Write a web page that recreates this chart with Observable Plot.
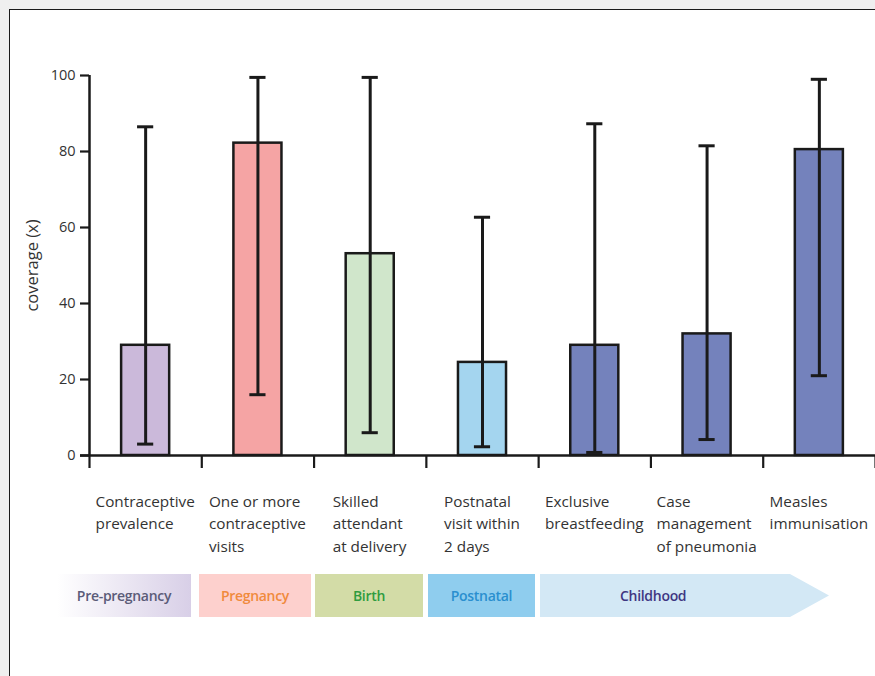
<!DOCTYPE html>
<html>
<head>
<meta charset="utf-8">
<script src="https://cdn.jsdelivr.net/npm/d3@7"></script>
<script src="https://cdn.jsdelivr.net/npm/@observablehq/plot@0.6"></script>
<style>
  html, body { margin: 0; padding: 0; background: #efefef; width: 875px; height: 676px; overflow: hidden; }
  #frame { position: absolute; left: 9px; top: 9px; width: 880px; height: 680px; background: #fff;
           border-top: 1.5px solid #1a1a1a; border-left: 1.5px solid #1a1a1a; }
  #chart { position: absolute; left: 0; top: 0; }
  .band { position: absolute; top: 574px; height: 43px; display: flex; align-items: center; justify-content: center;
          font-family: "Open Sans", Lato, sans-serif; font-weight: 600; font-size: 14px; letter-spacing: -0.3px; }
</style>
</head>
<body>
<div id="frame"></div>
<div id="chart"></div>
<div id="banner"></div>
<script>
const categories = [
  "Contraceptive\nprevalence",
  "One or more\ncontraceptive\nvisits",
  "Skilled\nattendant\nat delivery",
  "Postnatal\nvisit within\n2 days",
  "Exclusive\nbreastfeeding",
  "Case\nmanagement\nof pneumonia",
  "Measles\nimmunisation"
];
const coverage = [29, 82.2, 53.1, 24.5, 29, 32, 80.5];
const lower = [3, 16, 6, 2.3, 0.8, 4.2, 21];
const upper = [86.5, 99.5, 99.5, 62.7, 87.3, 81.5, 99];
const stageOf = ["Pre-pregnancy", "Pregnancy", "Birth", "Postnatal", "Childhood", "Childhood", "Childhood"];
const yTicks = [0, 20, 40, 60, 80, 100];
const yLabel = "coverage (x)";

const stages = ["Pre-pregnancy", "Pregnancy", "Birth", "Postnatal", "Childhood"];
const barColors = ["#cbb9da", "#f5a4a4", "#d0e6cb", "#a4d5ef", "#7482bc"];
const bandFills = ["linear-gradient(to right, #ffffff, #d8cfe7)", "#fdd0cd", "#d3dca7", "#8fcdee", "#d3e8f5"];
const bandText = ["#5b5b78", "#f08a3c", "#2f9c3f", "#2a8fcf", "#3e3682"];

const data = categories.map((c, i) => ({
  i, label: c, value: coverage[i], lo: lower[i], hi: upper[i], stage: stageOf[i]
}));

const barHalf = 0.214;
const capHalf = 0.072;
const ink = "#1a1a1a";

const chart = Plot.plot({
  width: 875,
  height: 560,
  marginTop: 75,
  marginBottom: 105,
  marginLeft: 89,
  marginRight: 0,
  x: { domain: [0, categories.length], axis: null },
  y: { domain: [0, 100], axis: null },
  color: { domain: stages, range: barColors },
  style: { fontFamily: "'Open Sans', Lato, sans-serif", color: "#333", background: "transparent" },
  marks: [
    Plot.rectY(data, {
      x1: d => d.i + 0.5 - barHalf, x2: d => d.i + 0.5 + barHalf,
      y1: 0, y2: "value", fill: "stage", stroke: ink, strokeWidth: 2.5
    }),
    Plot.ruleX(data, { x: d => d.i + 0.5, y1: "lo", y2: "hi", stroke: ink, strokeWidth: 3 }),
    Plot.ruleY(data, { x1: d => d.i + 0.5 - capHalf, x2: d => d.i + 0.5 + capHalf, y: "lo", stroke: ink, strokeWidth: 3 }),
    Plot.ruleY(data, { x1: d => d.i + 0.5 - capHalf, x2: d => d.i + 0.5 + capHalf, y: "hi", stroke: ink, strokeWidth: 3 }),
    Plot.ruleY([0], { stroke: ink, strokeWidth: 2.5, insetLeft: -9 }),
    Plot.ruleX([0], { y1: 0, y2: 100, stroke: ink, strokeWidth: 2.5 }),
    Plot.axisY({ ticks: yTicks, tickSize: 9, tickPadding: 5, fontSize: 14.5, strokeWidth: 2.2, stroke: ink, label: null }),
    Plot.axisX({ ticks: d3.range(categories.length + 1), tickSize: 13, tickFormat: () => "", strokeWidth: 2.2, stroke: ink, label: null }),
    Plot.text(data, {
      x: d => d.i + 0.5, text: "label", frameAnchor: "bottom", dy: 36,
      lineAnchor: "top", textAnchor: "start", lineHeight: 1.45, fontSize: 15.3, fill: "#333",
      className: "cat-labels"
    }),
    Plot.text([yLabel], { frameAnchor: "left", rotate: -90, dx: -57, fontSize: 16.5, fill: "#333", textAnchor: "middle" })
  ]
});
document.getElementById("chart").appendChild(chart);

// center each left-aligned label block on its category
const xs = chart.scale("x");
function centerLabels() {
  const svgLeft = chart.getBoundingClientRect().left;
  chart.querySelectorAll("g.cat-labels text").forEach((t, k) => {
    const r = t.getBoundingClientRect();
    const want = xs.apply(k + 0.5) - r.width / 2;
    const shift = want - (r.left - svgLeft);
    const prev = t.getAttribute("transform") || "";
    t.setAttribute("transform", prev + ` translate(${shift},0)`);
  });
}
(document.fonts ? document.fonts.ready : Promise.resolve()).then(centerLabels);

// stage banner under the chart
const bandPos = [[57, 191], [199, 311], [315, 423], [428, 535], [540, 829]];
const banner = document.getElementById("banner");
stages.forEach((s, k) => {
  const div = document.createElement("div");
  div.className = "band";
  div.style.left = bandPos[k][0] + "px";
  div.style.width = (bandPos[k][1] - bandPos[k][0]) + "px";
  div.style.background = bandFills[k];
  div.style.color = bandText[k];
  div.textContent = s;
  if (s === "Childhood") {
    div.style.clipPath = "polygon(0 0, 86.5% 0, 100% 50%, 86.5% 100%, 0 100%)";
    div.style.justifyContent = "flex-start";
    div.style.paddingLeft = "80px";
    div.style.width = (bandPos[k][1] - bandPos[k][0] - 80) + "px";
  }
  banner.appendChild(div);
});
</script>
</body>
</html>
